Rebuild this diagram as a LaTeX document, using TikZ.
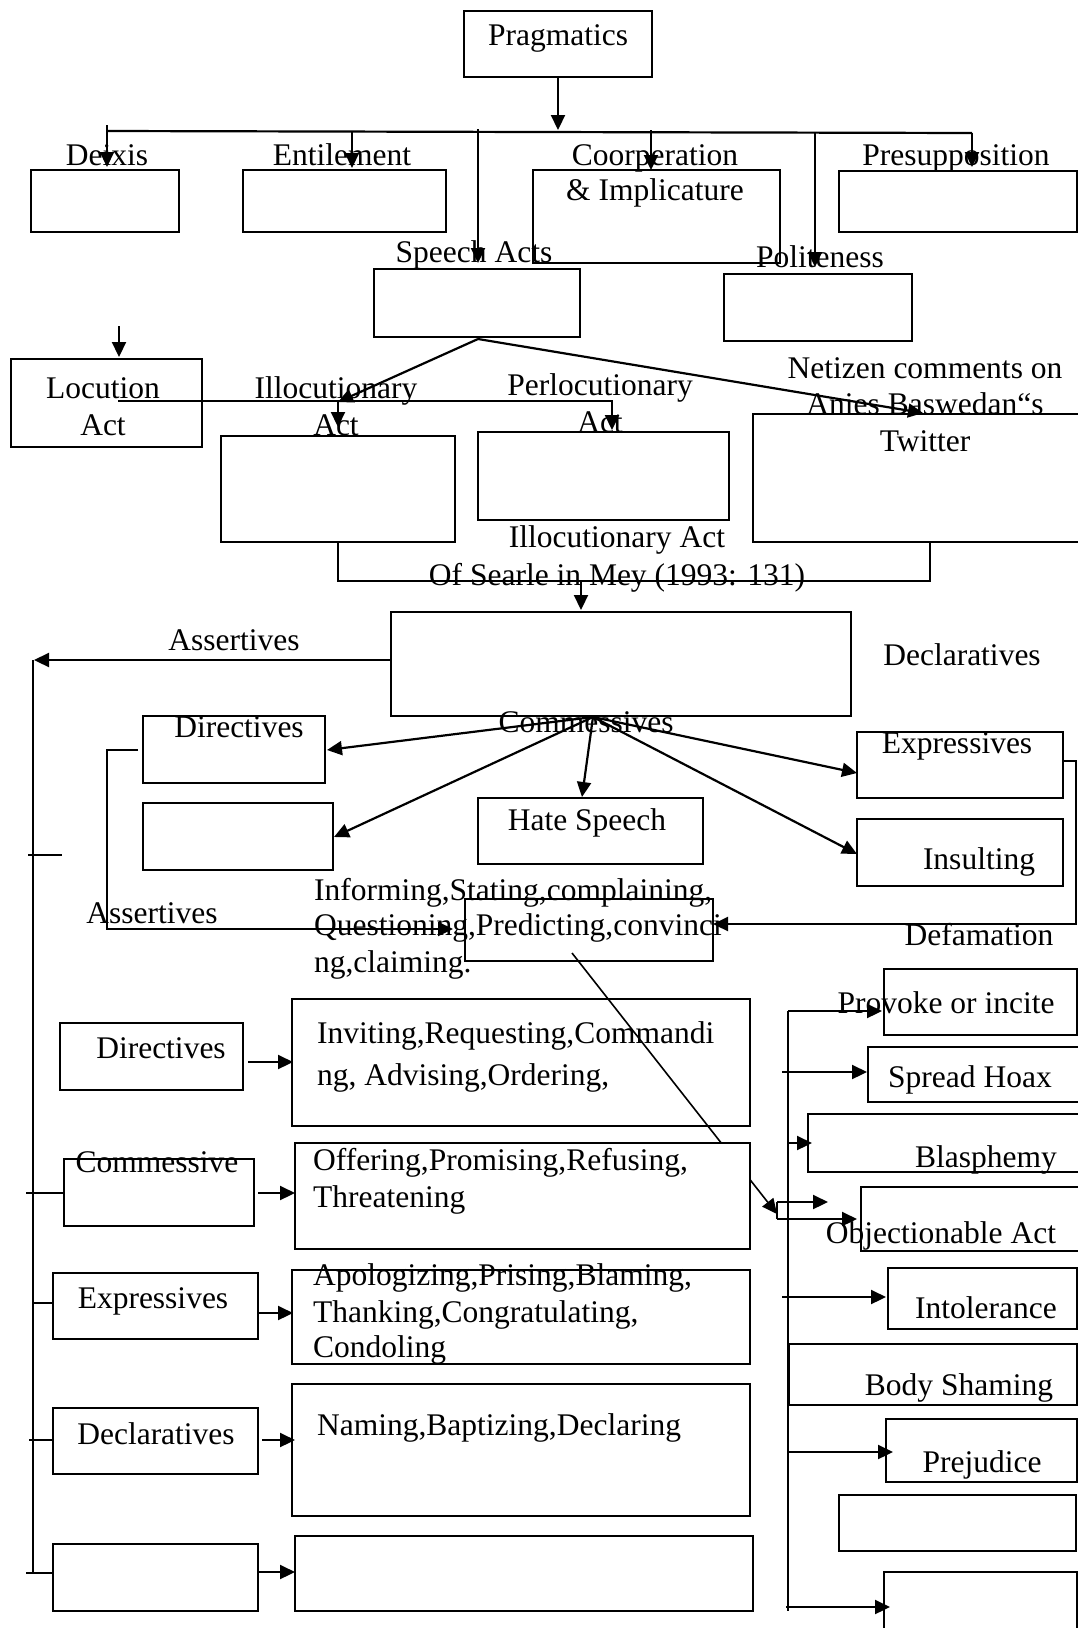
\documentclass[tikz,border=0pt]{standalone}
\usepackage{fontspec}
\setmainfont{Liberation Serif}
\usetikzlibrary{arrows.meta}
\newcommand\mkbox[6][]{\node[box,#1,minimum width={#5-#3},minimum height={#6-#4}] (#2) at ({(#3+#5)/2},{-(#4+#6)/2}) {};}
\newcommand\mktxt[5][base]{\node[lbl,anchor=#1] (#2) at (#3,-#4) {#5};}
\begin{document}
\begin{tikzpicture}[x=1pt,y=1pt,line width=2.2pt,
  box/.style={draw,rectangle,inner sep=0pt,outer sep=0pt,line width=2pt},
  lbl/.style={inner sep=0pt,font=\fontsize{31.5}{36}\selectfont},
  arr/.style={-{Triangle[length=15pt,width=14pt]}},
  thin/.style={line width=1.6pt}]
\useasboundingbox (0,0) rectangle (1078,-1628);
% ---------- boxes ----------
\mkbox{prag}{464}{11}{652}{77}
\mkbox{deixis}{31}{170}{179}{232}
\mkbox{entil}{243}{170}{446}{232}
\mkbox{coop}{533}{170}{780}{263}
\mkbox{presup}{839}{171}{1077}{232}
\mkbox{speech}{374}{269}{580}{337}
\mkbox{polite}{724}{274}{912}{341}
\mkbox{locut}{11}{359}{202}{447}
\mkbox{illoc}{221}{436}{455}{542}
\mkbox{perloc}{478}{432}{729}{520}
\mkbox{netizen}{753}{414}{1090}{542}
\mkbox{searle}{391}{612}{851}{716}
\mkbox{direcA}{143}{716}{325}{783}
\mkbox{emptyA}{143}{803}{333}{870}
\mkbox{hate}{478}{798}{703}{864}
\mkbox{exprA}{857}{732}{1063}{798}
\mkbox{insult}{857}{819}{1063}{886}
\mkbox{assertB}{465}{899}{713}{961}
\mkbox{provoke}{884}{969}{1077}{1035}
\mkbox{hoax}{868}{1047}{1090}{1102}
\mkbox{blasph}{808}{1114}{1090}{1172}
\mkbox{objec}{861}{1187}{1090}{1251}
\mkbox{intol}{888}{1268}{1077}{1329}
\mkbox{body}{789}{1344}{1077}{1405}
\mkbox{prej}{886}{1419}{1077}{1482}
\mkbox{emptyR}{839}{1495}{1076}{1551}
\mkbox{lastR}{884}{1572}{1077}{1640}
\mkbox{direcB}{60}{1023}{243}{1090}
\mkbox{invit}{292}{999}{750}{1126}
\mkbox{commB}{64}{1159}{254}{1226}
\mkbox{exprB}{53}{1273}{258}{1339}
\mkbox{apolo}{292}{1270}{750}{1364}
\mkbox{declB}{53}{1408}{258}{1474}
\mkbox{naming}{292}{1384}{750}{1516}
\mkbox{emptyL}{53}{1544}{258}{1611}
\mkbox{emptyM}{295}{1536}{753}{1611}
% ---------- coordinates ----------
\coordinate (hL) at (107,-131); \coordinate (hR) at (972,-133);
\coordinate (d1a) at (107,-125); \coordinate (d1b) at (107,-167);
\coordinate (d2a) at (352,-132); \coordinate (d2b) at (352,-168);
\coordinate (d3a) at (478,-129); \coordinate (d3b) at (478,-263);
\coordinate (d4a) at (651,-130); \coordinate (d4b) at (651,-170);
\coordinate (d5a) at (815,-132); \coordinate (d5b) at (815,-267);
\coordinate (d6a) at (972,-133); \coordinate (d6b) at (972,-167);
\coordinate (pragT) at (558,-130);
\coordinate (locA) at (119,-326); \coordinate (locB) at (119,-357);
\coordinate (sa) at (478,-339);
\coordinate (saL) at (338,-402); \coordinate (saR) at (923,-413);
\coordinate (l1) at (118,-401); \coordinate (l2) at (612,-401); \coordinate (l3) at (612,-430);
\coordinate (i1) at (338,-401); \coordinate (i2) at (338,-427);
\coordinate (b1) at (338,-542); \coordinate (b2) at (338,-581);
\coordinate (b3) at (930,-581); \coordinate (b4) at (930,-542);
\coordinate (bm) at (581,-581); \coordinate (bmT) at (581,-610);
\coordinate (sw) at (391,-660); \coordinate (swT) at (34,-660);
\coordinate (vL1) at (33,-660); \coordinate (vL2) at (33,-1573);
\coordinate (ap) at (593,-717);
\coordinate (apDir) at (327,-750); \coordinate (apEmp) at (334,-837);
\coordinate (apHate) at (582,-797); \coordinate (apExp) at (857,-773);
\coordinate (apIns) at (857,-854);
\coordinate (c1) at (138,-750); \coordinate (c2) at (107,-750);
\coordinate (c3) at (107,-929); \coordinate (c4) at (453,-929);
\coordinate (e1) at (1063,-761); \coordinate (e2) at (1076,-761);
\coordinate (e3) at (1076,-924); \coordinate (e4) at (713,-924);
\coordinate (tk1a) at (28,-855); \coordinate (tk1b) at (62,-855);
\coordinate (dg1) at (572,-953); \coordinate (dg2) at (777,-1214);
\coordinate (k1) at (777,-1202); \coordinate (k1T) at (828,-1202);
\coordinate (k2) at (777,-1219); \coordinate (k2T) at (857,-1219);
\coordinate (vR1) at (788,-1011); \coordinate (vR2) at (788,-1611);
\coordinate (r1T) at (882,-1011);
\coordinate (r2) at (782,-1072); \coordinate (r2T) at (867,-1072);
\coordinate (r3) at (788,-1143); \coordinate (r3T) at (812,-1143);
\coordinate (r4) at (782,-1297); \coordinate (r4T) at (886,-1297);
\coordinate (r5) at (788,-1452); \coordinate (r5T) at (893,-1452);
\coordinate (r6) at (786,-1607); \coordinate (r6T) at (890,-1607);
\coordinate (a1) at (248,-1062); \coordinate (a1T) at (293,-1062);
\coordinate (a2) at (258,-1193); \coordinate (a2T) at (295,-1193);
\coordinate (a3) at (258,-1313); \coordinate (a3T) at (293,-1313);
\coordinate (a4) at (262,-1440); \coordinate (a4T) at (295,-1440);
\coordinate (a5) at (258,-1572); \coordinate (a5T) at (295,-1572);
\coordinate (t2a) at (26,-1193); \coordinate (t2b) at (64,-1193);
\coordinate (t3a) at (33,-1303); \coordinate (t3b) at (53,-1303);
\coordinate (t4a) at (29,-1440); \coordinate (t4b) at (53,-1440);
\coordinate (t5a) at (26,-1573); \coordinate (t5b) at (53,-1573);
% ---------- connectors ----------
\draw[arr] (prag.south) -- (pragT);
\draw (hL) -- (hR);
\draw[arr] (d1a) -- (d1b);
\draw[arr] (d2a) -- (d2b);
\draw[arr] (d3a) -- (d3b);
\draw[arr] (d4a) -- (d4b);
\draw[arr] (d5a) -- (d5b);
\draw[arr] (d6a) -- (d6b);
\draw[arr] (locA) -- (locB);
\draw[arr] (sa) -- (saL);
\draw[arr] (sa) -- (saR);
\draw[arr] (l1) -- (l2) -- (l3);
\draw[arr] (i1) -- (i2);
\draw (b1) -- (b2) -- (b3) -- (b4);
\draw[arr] (bm) -- (bmT);
\draw[arr] (sw) -- (swT);
\draw[thin] (vL1) -- (vL2);
\draw[arr] (ap) -- (apDir);
\draw[arr] (ap) -- (apEmp);
\draw[arr] (ap) -- (apHate);
\draw[arr] (ap) -- (apExp);
\draw[arr] (ap) -- (apIns);
\draw[arr] (c1) -- (c2) -- (c3) -- (c4);
\draw[arr] (e1) -- (e2) -- (e3) -- (e4);
\draw (tk1a) -- (tk1b);
\draw[thin,arr] (dg1) -- (dg2);
\draw (k1) -- (k2);
\draw[arr] (k1) -- (k1T);
\draw[arr] (k2) -- (k2T);
\draw[thin] (vR1) -- (vR2);
\draw[arr] (vR1) -- (r1T);
\draw[arr] (r2) -- (r2T);
\draw[arr] (r3) -- (r3T);
\draw[arr] (r4) -- (r4T);
\draw[arr] (r5) -- (r5T);
\draw[arr] (r6) -- (r6T);
\draw[arr] (a1) -- (a1T);
\draw[arr] (a2) -- (a2T);
\draw[arr] (a3) -- (a3T);
\draw[arr] (a4) -- (a4T);
\draw[arr] (a5) -- (a5T);
\draw (t2a) -- (t2b);
\draw (t3a) -- (t3b);
\draw (t4a) -- (t4b);
\draw (t5a) -- (t5b);
% white box that hides part of the diagonal
\mkbox[fill=white]{offer}{295}{1143}{750}{1249}
% ---------- texts ----------
\mktxt{tprag}{558}{45}{Pragmatics}
\mktxt{tdeixis}{107}{165}{Deixis}
\mktxt{tentil}{342}{165}{Entilement}
\mktxt{tcoop1}{655}{165}{Coorperation}
\mktxt{tcoop2}{655}{200}{\& Implicature}
\mktxt{tpresup}{956}{165}{Presupposition}
\mktxt{tspeech}{474}{262}{Speech Acts}
\mktxt{tpolite}{820}{267}{Politeness}
\mktxt{tloc1}{103}{398}{Locution}
\mktxt{tloc2}{103}{435}{Act}
\mktxt{till1}{336}{398}{Illocutionary}
\mktxt{till2}{336}{435}{Act}
\mktxt{tper1}{600}{395}{Perlocutionary}
\mktxt{tper2}{600}{432}{Act}
\mktxt{tnet1}{925}{378}{Netizen comments on}
\mktxt{tnet2}{925}{414}{Anies Baswedan“s}
\mktxt{tnet3}{925}{451}{Twitter}
\mktxt{tsearle1}{617}{547}{Illocutionary Act}
\mktxt{tsearle2}{617}{585}{Of Searle in Mey (1993: 131)}
\mktxt{tassA}{234}{650}{Assertives}
\mktxt{tdeclA}{962}{665}{Declaratives}
\mktxt{tcomA}{586}{732}{Commessives}
\mktxt{tdirA}{239}{737}{Directives}
\mktxt{thate}{587}{830}{Hate Speech}
\mktxt{texprA}{957}{753}{Expressives}
\mktxt{tinsult}{979}{869}{Insulting}
\mktxt{tassB}{152}{923}{Assertives}
\mktxt[base west]{tinf1}{313}{900}{Informing,Stating,complaining,}
\mktxt[base west]{tinf2}{313}{935}{Questioning,Predicting,convinci}
\mktxt[base west]{tinf3}{313}{972}{ng,claiming.}
\mktxt{tdefam}{979}{945}{Defamation}
\mktxt{tprov}{946}{1013}{Provoke or incite}
\mktxt{thoax}{970}{1087}{Spread Hoax}
\mktxt{tblas}{986}{1167}{Blasphemy}
\mktxt{tobj}{941}{1243}{Objectionable Act}
\mktxt{tintol}{986}{1318}{Intolerance}
\mktxt{tbody}{959}{1395}{Body Shaming}
\mktxt{tprej}{982}{1472}{Prejudice}
\mktxt{tdirB}{161}{1058}{Directives}
\mktxt[base west]{tinv1}{316}{1043}{Inviting,Requesting,Commandi}
\mktxt[base west]{tinv2}{316}{1085}{ng, Advising,Ordering,}
\mktxt{tcomB}{157}{1172}{Commessive}
\mktxt[base west]{toff1}{312}{1170}{Offering,Promising,Refusing,}
\mktxt[base west]{toff2}{312}{1207}{Threatening}
\mktxt{texprB}{153}{1308}{Expressives}
\mktxt[base west]{tapo1}{312}{1285}{Apologizing,Prising,Blaming,}
\mktxt[base west]{tapo2}{312}{1322}{Thanking,Congratulating,}
\mktxt[base west]{tapo3}{312}{1357}{Condoling}
\mktxt{tdeclB}{156}{1444}{Declaratives}
\mktxt[base west]{tnam}{316}{1435}{Naming,Baptizing,Declaring}
\end{tikzpicture}
\end{document}
